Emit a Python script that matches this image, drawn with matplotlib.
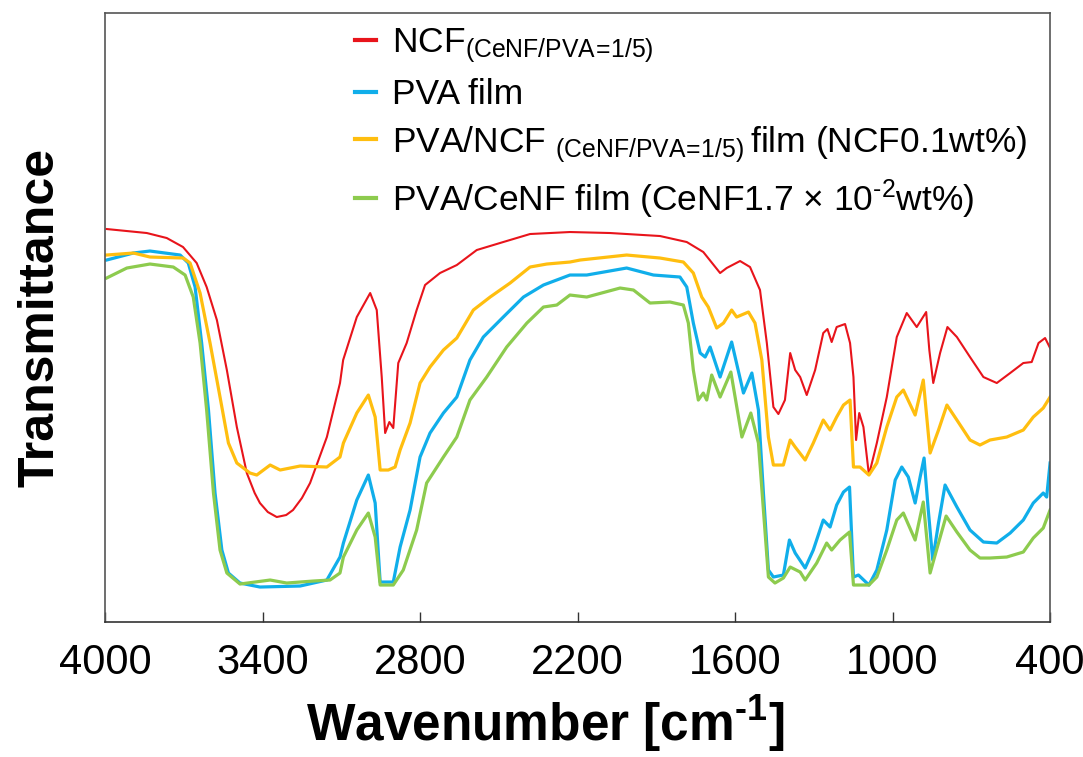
import matplotlib
matplotlib.use("Agg")
import matplotlib.pyplot as plt

plt.rcParams['font.family'] = ['Liberation Sans', 'DejaVu Sans']
plt.rcParams['mathtext.default'] = 'regular'

# FT-IR spectra (wavenumber in cm-1, transmittance in arbitrary units)
ncf_wn = [3994, 3841, 3765, 3703, 3651, 3613, 3574, 3536, 3498, 3460, 3430, 3410, 3380,
          3346, 3310, 3284, 3250, 3219, 3155, 3105, 3093, 3041, 2990, 2965, 2946, 2933,
          2917, 2902, 2883, 2851, 2813, 2781, 2724, 2660, 2584, 2483, 2381, 2229, 2076,
          1886, 1784, 1721, 1657, 1632, 1581, 1543, 1505, 1479, 1454, 1435, 1410, 1390,
          1371, 1352, 1327, 1295, 1264, 1248, 1232, 1213, 1181, 1162, 1149, 1139, 1127,
          1111, 1090, 1060, 1022, 984, 946, 908, 872, 860, 845, 819, 791, 755, 705, 654,
          603, 552, 502, 470, 444, 419, 400]
ncf_t = [393, 389, 384, 375, 359, 335, 302, 252, 195, 149, 129, 119, 110,
         105, 107, 112, 124, 139, 185, 239, 262, 305, 329, 312, 245, 189,
         200, 194, 259, 279, 312, 337, 349, 357, 372, 380, 388, 390, 389,
         386, 380, 370, 349, 354, 361, 355, 332, 279, 215, 208, 222, 269,
         252, 245, 227, 252, 289, 293, 280, 295, 298, 279, 245, 182, 209,
         195, 147, 179, 225, 285, 309, 295, 310, 272, 239, 269, 295, 285, 265, 245,
         239, 249, 259, 260, 279, 284, 274]

pva_wn = [3994, 3892, 3829, 3714, 3683, 3657, 3632, 3606, 3581, 3555, 3530, 3486, 3410,
          3257, 3155, 3105, 3092, 3041, 2997, 2971, 2952, 2902, 2876, 2838, 2800, 2762,
          2711, 2660, 2610, 2559, 2483, 2406, 2330, 2229, 2165, 2013, 1911, 1810, 1784,
          1759, 1733, 1714, 1695, 1657, 1613, 1568, 1536, 1511, 1492, 1473, 1454, 1416,
          1393, 1371, 1333, 1302, 1264, 1238, 1213, 1187, 1164, 1149, 1130, 1090, 1060,
          1022, 990, 965, 940, 914, 895, 880, 864, 847, 825, 800, 755, 705, 654, 603, 552,
          502, 464, 426, 413, 400]
pva_t = [362, 369, 371, 367, 359, 335, 279, 212, 129, 72, 49, 39, 35,
         36, 42, 65, 79, 122, 147, 119, 40, 40, 75, 112, 165, 189,
         209, 225, 262, 285, 305, 325, 337, 347, 347, 354, 347, 345, 335,
         299, 269, 265, 275, 245, 280, 229, 249, 212, 129, 52, 45, 47,
         82, 69, 54, 72, 102, 95, 117, 130, 135, 45, 47, 37, 52,
         92, 142, 155, 145, 119, 145, 164, 112, 62, 99, 137, 115, 92, 80, 79, 89,
         102, 119, 129, 125, 159]

pva_ncf_wn = [3994, 3892, 3829, 3702, 3676, 3638, 3600, 3562, 3530, 3498, 3448, 3422,
              3371, 3333, 3257, 3155, 3105, 3092, 3041, 2997, 2971, 2952, 2921, 2895,
              2876, 2838, 2800, 2762, 2711, 2660, 2597, 2533, 2457, 2381, 2317, 2229,
              2190, 2013, 1886, 1797, 1759, 1727, 1702, 1670, 1644, 1613, 1594, 1549,
              1524, 1498, 1473, 1454, 1416, 1390, 1371, 1333, 1302, 1264, 1238, 1213,
              1187, 1162, 1149, 1124, 1090, 1060, 1022, 984, 959, 914, 883, 857, 825,
              793, 755, 705, 667, 629, 565, 502, 464, 426, 400]
pva_ncf_t = [367, 369, 365, 364, 359, 329, 279, 225, 179, 159, 149, 147,
             157, 152, 156, 155, 165, 179, 209, 227, 205, 152, 152, 155,
             172, 199, 239, 255, 272, 284, 312, 325, 339, 355, 358, 360,
             362, 367, 364, 360, 349, 325, 315, 294, 299, 312, 305, 310,
             299, 262, 185, 157, 157, 182, 175, 162, 179, 202, 192, 205,
             217, 222, 155, 155, 147, 159, 195, 225, 232, 207, 242, 169, 192,
             217, 202, 182, 177, 182, 185, 192, 205, 214, 225]

pva_cenf_wn = [3994, 3917, 3829, 3740, 3695, 3664, 3638, 3613, 3587, 3562, 3536, 3486,
               3371, 3308, 3206, 3143, 3105, 3092, 3041, 2997, 2971, 2952, 2902, 2864,
               2813, 2775, 2711, 2660, 2610, 2546, 2470, 2393, 2330, 2279, 2229, 2165,
               2038, 1987, 1924, 1848, 1797, 1778, 1759, 1740, 1721, 1708, 1689, 1657,
               1616, 1574, 1540, 1511, 1492, 1473, 1448, 1416, 1390, 1352, 1333, 1289,
               1251, 1232, 1200, 1164, 1149, 1090, 1060, 1022, 984, 959, 914, 883, 857,
               825, 796, 755, 705, 667, 629, 565, 502, 464, 426, 400]
pva_cenf_t = [344, 354, 358, 355, 347, 325, 279, 212, 129, 72, 49, 38,
              42, 39, 41, 42, 49, 65, 92, 109, 85, 37, 37, 52,
              92, 139, 165, 185, 222, 245, 275, 299, 315, 317, 327, 325,
              334, 332, 319, 320, 317, 299, 252, 222, 229, 222, 247, 225,
              250, 185, 209, 179, 112, 45, 39, 44, 55, 50, 42, 59,
              79, 72, 82, 90, 37, 37, 45, 72, 102, 109, 82, 120, 49,
              79, 106, 90, 72, 64, 64, 65, 70, 84, 94, 112]

labels = [r'NCF$_{(CeNF/PVA\!=\!1/5)}$',
          'PVA film',
          r'PVA/NCF $_{(CeNF/PVA\!=\!1/5)}\,$film (NCF0.1wt%)',
          'PVA/CeNF film (CeNF1.7 \u00d7 10$^{\u2010 2}$wt%)']
colors = ['#E8141B', '#10AEEA', '#FFBE0F', '#8DCB4E']

fig = plt.figure(figsize=(10.83, 7.57), dpi=100)
ax = fig.add_axes([0.0970, 0.1783, 0.8726, 0.8045])

ax.plot(ncf_wn, ncf_t, color=colors[0], lw=1.5, label=labels[0])
ax.plot(pva_wn, pva_t, color=colors[1], lw=2.3, label=labels[1])
ax.plot(pva_ncf_wn, pva_ncf_t, color=colors[2], lw=2.3, label=labels[2])
ax.plot(pva_cenf_wn, pva_cenf_t, color=colors[3], lw=2.3, label=labels[3])

ax.set_xlim(4000, 400)
ax.set_ylim(0, 609)
ax.set_xticks([4000, 3400, 2800, 2200, 1600, 1000, 400])
ax.set_yticks([])
ax.tick_params(axis='x', direction='in', length=7, width=1, color='#333333',
               labelsize=30, pad=15)
for s in ax.spines.values():
    s.set_color('#555555')
    s.set_linewidth(1.2)
ax.spines['bottom'].set_color('#333333')

ax.set_xlabel('Wavenumber [cm$^{\u2010 1}$]', fontsize=37, fontweight='bold')
ax.xaxis.set_label_coords(0.466, -0.118)
ax.set_ylabel('Transmittance', fontsize=36, fontweight='bold', labelpad=30)

leg = ax.legend(loc='upper left', bbox_to_anchor=(0.328, 0.965),
                bbox_transform=fig.transFigure, frameon=False, fontsize=25.5,
                handlelength=0.6, handletextpad=0.45, labelspacing=0.36,
                borderpad=0, borderaxespad=0)
for h in leg.get_lines():
    h.set_linewidth(3)

fig.savefig('out.png', dpi=100)
